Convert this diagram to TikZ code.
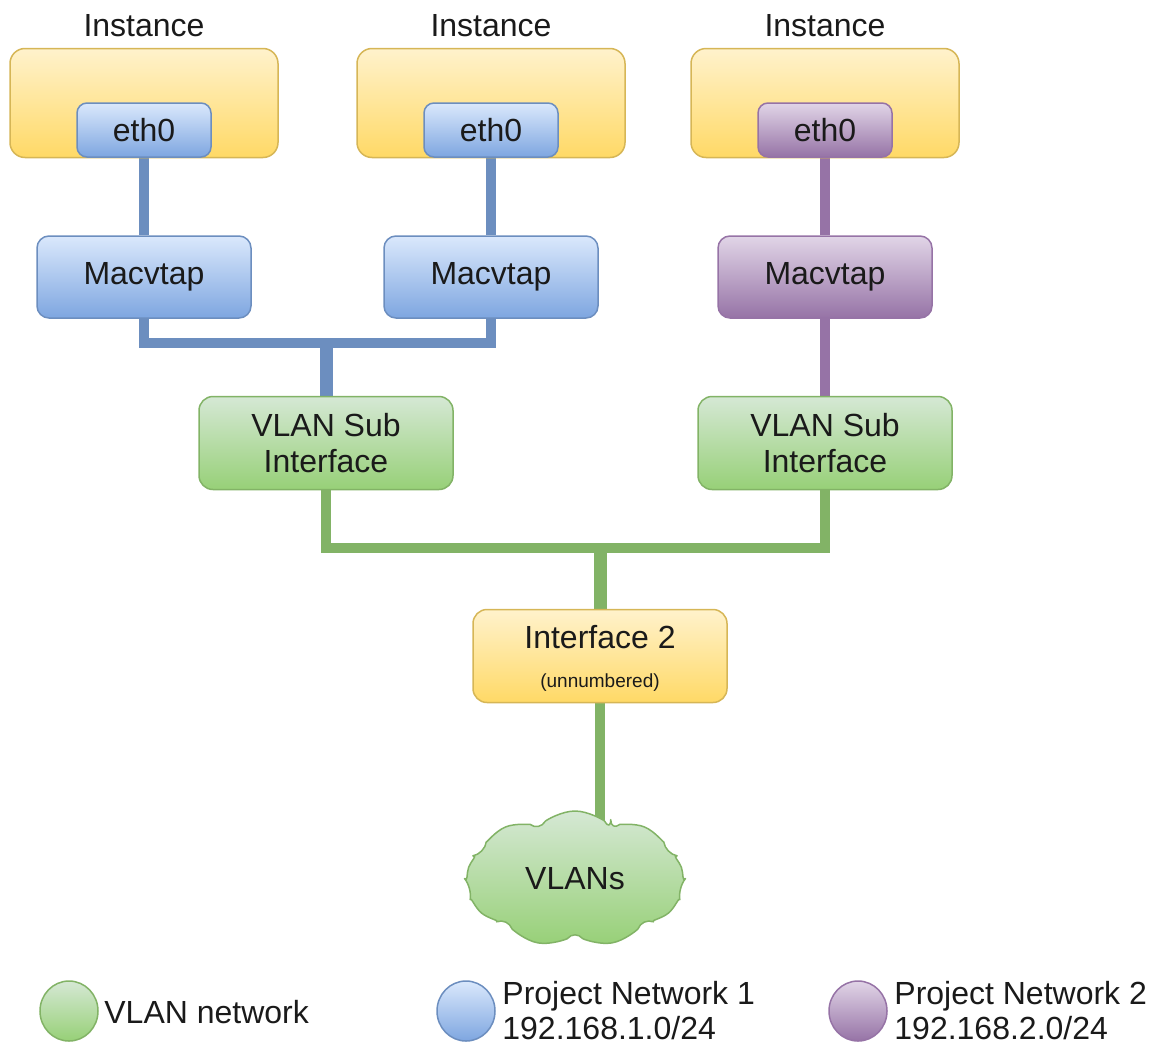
\documentclass[tikz,border=0pt]{standalone}
\usepackage{fontspec}
\setmainfont{Liberation Sans}
\usetikzlibrary{
  shapes.geometric,
  shapes.symbols,
  backgrounds
}
\definecolor{yelTop}{HTML}{FFF2CC}
\definecolor{yelBot}{HTML}{FFD966}
\definecolor{yelLine}{HTML}{D6B656}
\definecolor{bluTop}{HTML}{DAE8FC}
\definecolor{bluBot}{HTML}{7EA6E0}
\definecolor{bluLine}{HTML}{6C8EBF}
\definecolor{purTop}{HTML}{E1D5E7}
\definecolor{purBot}{HTML}{9673A6}
\definecolor{purLine}{HTML}{9673A6}
\definecolor{grnTop}{HTML}{D5E8D4}
\definecolor{grnBot}{HTML}{97D077}
\definecolor{grnLine}{HTML}{82B366}
\definecolor{txt}{HTML}{1A1A1A}
\tikzset{
  box/.style={
    draw,
    line width=0.75pt,
    rounded corners=6pt,
    inner sep=0pt,
    align=center,
    text=txt,
    font=\fontsize{16}{18}\selectfont
  },
  yellowbox/.style={box, draw=yelLine, top color=yelTop, bottom color=yelBot},
  bluebox/.style={box, draw=bluLine, top color=bluTop, bottom color=bluBot},
  purplebox/.style={box, draw=purLine, top color=purTop, bottom color=purBot},
  greenbox/.style={box, draw=grnLine, top color=grnTop, bottom color=grnBot},
  instbox/.style={minimum width=134pt, minimum height=54.5pt, rounded corners=7.5pt},
  ethbox/.style={minimum width=67pt, minimum height=27pt, rounded corners=5pt},
  macbox/.style={minimum width=107pt, minimum height=41pt},
  subbox/.style={minimum width=127pt, minimum height=46.5pt, rounded corners=7pt},
  cloudbox/.style={
    box, shape=cloud, draw=grnLine, top color=grnTop, bottom color=grnBot,
    line join=round, cloud puffs=9, cloud puff arc=120, aspect=1.6,
    minimum width=108pt, minimum height=68pt
  },
  dot/.style={shape=ellipse, line width=0.75pt, minimum width=29pt, minimum height=30pt, inner sep=0pt},
  lbl/.style={text=txt, inner sep=0pt, font=\fontsize{16}{17.5}\selectfont, align=left},
  blueline/.style={draw=bluLine, line width=5pt},
  purpleline/.style={draw=purLine, line width=5pt},
  greenline/.style={draw=grnLine, line width=5pt},
  stub/.style={line width=6.5pt}
}
\begin{document}
\begin{tikzpicture}[x=0.5pt, y=-0.5pt]
  \useasboundingbox (0,0) rectangle (1154,1044);

  \node[yellowbox, instbox] (inst1) at (144,103) {};
  \node[yellowbox, instbox] (inst2) at (491,103) {};
  \node[yellowbox, instbox] (inst3) at (825,103) {};
  \node[lbl] (inst1lbl) at (144,26) {Instance};
  \node[lbl] (inst2lbl) at (491,26) {Instance};
  \node[lbl] (inst3lbl) at (825,26) {Instance};

  \node[bluebox, ethbox] (eth1) at (144,130) {eth0};
  \node[bluebox, ethbox] (eth2) at (491,130) {eth0};
  \node[purplebox, ethbox] (eth3) at (825,130) {eth0};

  \node[bluebox, macbox] (mac1) at (144,277) {Macvtap};
  \node[bluebox, macbox] (mac2) at (491,277) {Macvtap};
  \node[purplebox, macbox] (mac3) at (825,277) {Macvtap};

  \node[greenbox, subbox] (vsub1) at (326,443) {VLAN Sub\\Interface};
  \node[greenbox, subbox] (vsub2) at (825,443) {VLAN Sub\\Interface};

  \node[yellowbox, subbox, text depth=-3.5pt] (if2) at (600,656) {Interface 2\\[1.5pt]{\fontsize{9.5}{10}\selectfont(unnumbered)}};
  \node[cloudbox] (vlans) at (575,879) {VLANs};

  \coordinate (bbus) at (326,343);
  \coordinate (gbus) at (600,548);

  \begin{scope}[on background layer]
    \draw[blueline] (eth1) -- (mac1);
    \draw[blueline] (eth2) -- (mac2);
    \draw[purpleline] (eth3) -- (mac3);
    \draw[blueline] (mac1.south) |- (bbus) -| (mac2.south);
    \draw[blueline, stub] (bbus) -- (vsub1.north);
    \draw[purpleline] (mac3) -- (vsub2);
    \draw[greenline] (vsub1.south) |- (gbus) -| (vsub2.south);
    \draw[greenline, stub] (gbus) -- (if2.north);
    \draw[greenline] (if2.south) -- (if2.south |- vlans.center);
  \end{scope}

  \node[dot, draw=grnLine, top color=grnTop, bottom color=grnBot] (key1) at (69,1011) {};
  \node[dot, draw=bluLine, top color=bluTop, bottom color=bluBot] (key2) at (466,1011) {};
  \node[dot, draw=purLine, top color=purTop, bottom color=purBot] (key3) at (858,1011) {};
  \node[lbl, anchor=west] (key1txt) at (104,1012) {VLAN network};
  \node[lbl, anchor=west] (key2txt) at (502,1011) {Project Network 1\\192.168.1.0/24};
  \node[lbl, anchor=west] (key3txt) at (894,1011) {Project Network 2\\192.168.2.0/24};
\end{tikzpicture}
\end{document}
